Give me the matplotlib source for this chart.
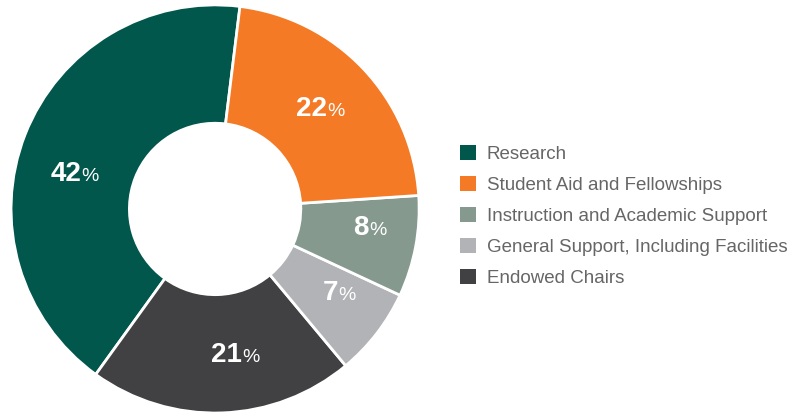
import matplotlib.pyplot as plt
import numpy as np
from matplotlib.patches import Patch
from matplotlib.offsetbox import TextArea, HPacker, AnnotationBbox

plt.rcParams['font.family'] = ['Liberation Sans', 'DejaVu Sans']

# data (legend order)
categories = ["Research", "Student Aid and Fellowships", "Instruction and Academic Support",
              "General Support, Including Facilities", "Endowed Chairs"]
shares = [42, 22, 8, 7, 21]
colors = ["#02574d", "#f47a26", "#86998f", "#b2b3b6", "#414042"]

# drawing order around the ring (counterclockwise from the top)
ring_order = [0, 4, 3, 2, 1]
ring_vals = [shares[i] for i in ring_order]
ring_cols = [colors[i] for i in ring_order]
# small hand nudges of the value labels (degrees, radius) like the original layout
label_nudge = [(7.4, 0.71), (5.8, 0.72), (3.6, 0.735), (3.6, 0.765), (0.0, 0.71)]

fig = plt.figure(figsize=(8.05, 4.16), dpi=100)
ax = fig.add_axes([0.0137, 0.0072, 0.507, 0.981])

inner = 0.42
wedges, _ = ax.pie(ring_vals, colors=ring_cols, startangle=83, counterclock=True,
                   radius=1, wedgeprops=dict(width=1 - inner, edgecolor="white", linewidth=2))
ax.set_xlim(-1, 1)
ax.set_ylim(-1, 1)

# value labels inside each wedge
for w, v, (dang, r) in zip(wedges, ring_vals, label_nudge):
    ang = np.deg2rad((w.theta1 + w.theta2) / 2 + dang)
    x, y = r * np.cos(ang), r * np.sin(ang)
    num = TextArea(str(v), textprops=dict(color="white", fontsize=20, fontweight="bold"))
    pct = TextArea("%", textprops=dict(color="white", fontsize=14))
    box = HPacker(children=[num, pct], align="baseline", pad=0, sep=0)
    ab = AnnotationBbox(box, (x, y), frameon=False, box_alignment=(0.5, 0.5))
    ax.add_artist(ab)

handles = [Patch(facecolor=c, edgecolor="none") for c in colors]
leg = fig.legend(handles, categories, loc="upper left", bbox_to_anchor=(0.571, 0.652),
                 frameon=False, fontsize=13.5, handlelength=0.85, handleheight=0.85,
                 labelspacing=0.7, handletextpad=0.59, borderpad=0, borderaxespad=0)
for t in leg.get_texts():
    t.set_color("#666666")

fig.savefig("out.png", dpi=100)
